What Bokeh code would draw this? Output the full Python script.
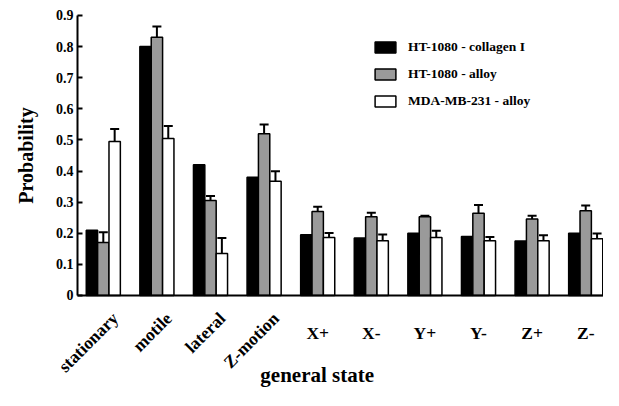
import numpy as np
from bokeh.plotting import figure
from bokeh.models import ColumnDataSource, Range1d, FixedTicker, Whisker, TeeHead, Legend
from bokeh.core.properties import value
from bokeh.embed import file_html
from bokeh.resources import INLINE

categories = ["stationary", "motile", "lateral", "Z-motion",
              "X+", "X-", "Y+", "Y-", "Z+", "Z-"]
ht_collagen = [0.21, 0.80, 0.42, 0.38, 0.195, 0.185, 0.20, 0.19, 0.175, 0.20]
ht_alloy = [0.17, 0.83, 0.305, 0.52, 0.27, 0.253, 0.253, 0.264, 0.246, 0.272]
ht_alloy_err = [0.033, 0.035, 0.015, 0.03, 0.015, 0.013, 0.003, 0.027, 0.01, 0.017]
mda_alloy = [0.495, 0.505, 0.135, 0.367, 0.186, 0.176, 0.186, 0.176, 0.176, 0.182]
mda_alloy_err = [0.04, 0.04, 0.05, 0.032, 0.015, 0.02, 0.022, 0.012, 0.018, 0.017]
y_ticks = [0, 0.1, 0.2, 0.3, 0.4, 0.5, 0.6, 0.7, 0.8, 0.9]
x_title = "general state"
y_title = "Probability"

FONT = "Liberation Serif"
idx = np.arange(len(categories))
bw = 0.212
X_AXIS_START = -0.48
X_END = 9.332

# the frame covers the whole canvas; axes are drawn at fixed data locations
p = figure(width=603, height=390, output_backend="svg", toolbar_location=None,
           x_range=Range1d(-1.918, X_END), y_range=Range1d(-0.3054, 0.9482),
           min_border=0)
p.outline_line_color = None
p.grid.visible = False

r1 = p.vbar(x=idx - bw, top=ht_collagen, width=bw, fill_color="black",
            line_color="black", line_width=1.5)
r2 = p.vbar(x=idx, top=ht_alloy, width=bw, fill_color="#9a9a9a",
            line_color="black", line_width=1.5)
r3 = p.vbar(x=idx + bw, top=mda_alloy, width=bw, fill_color="white",
            line_color="black", line_width=1.5)

def add_err(xs, vals, errs):
    src = ColumnDataSource(dict(x=list(xs),
                                upper=[v + e for v, e in zip(vals, errs)],
                                lower=[v - e for v, e in zip(vals, errs)]))
    w = Whisker(source=src, base="x", upper="upper", lower="lower",
                line_color="black", line_width=2,
                upper_head=TeeHead(size=9, line_width=2, line_color="black"),
                lower_head=TeeHead(size=9, line_width=2, line_color="black"))
    p.add_layout(w)

add_err(idx, ht_alloy, ht_alloy_err)
add_err(idx + bw, mda_alloy, mda_alloy_err)

legend = Legend(items=[("HT-1080 - collagen I", [r1]),
                       ("HT-1080 - alloy", [r2]),
                       ("MDA-MB-231 - alloy", [r3])],
                location=(372, 281), glyph_width=26, glyph_height=14,
                label_height=14, spacing=11, label_standoff=10, padding=0,
                margin=0, border_line_color=None, background_fill_alpha=0,
                label_text_font=FONT, label_text_font_style="bold",
                label_text_font_size="13.5px", label_text_color="black")
p.add_layout(legend)

# y axis at the left end of the x axis
ya = p.yaxis[0]
ya.fixed_location = X_AXIS_START
ya.ticker = FixedTicker(ticks=y_ticks)
ya.bounds = (0, 0.9)
ya.major_label_overrides = {0: "0"}
ya.axis_line_width = 2
ya.axis_line_color = "black"
ya.major_tick_in = 5
ya.major_tick_out = 0
ya.major_tick_line_width = 2
ya.major_tick_line_color = "black"
ya.minor_tick_line_color = None
ya.major_label_text_font = FONT
ya.major_label_text_font_style = "bold"
ya.major_label_text_font_size = "14px"
ya.major_label_text_color = "black"
ya.major_label_standoff = 4
ya.axis_label = y_title
ya.axis_label_text_font = FONT
ya.axis_label_text_font_style = "bold"
ya.axis_label_text_font_size = "20px"
ya.axis_label_text_color = "black"
ya.axis_label_standoff = 16

# x axis line at zero
xa = p.xaxis[0]
xa.fixed_location = 0
xa.bounds = (X_AXIS_START, X_END)
xa.ticker = FixedTicker(ticks=[])
xa.axis_line_width = 2
xa.axis_line_color = "black"
xa.major_tick_out = 0
xa.major_tick_in = 0
xa.minor_tick_line_color = None
xa.major_label_text_font_size = "0px"

# category labels: first four rotated 45 degrees, rest horizontal
n_rot = 4
rot_src = ColumnDataSource(dict(x=[i + 0.22 for i in range(n_rot)],
                                y=[-0.064] * n_rot,
                                t=categories[:n_rot]))
hor_src = ColumnDataSource(dict(x=list(range(n_rot, len(categories))),
                                y=[-0.122] * (len(categories) - n_rot),
                                t=categories[n_rot:]))
p.text(x="x", y="y", text="t", source=rot_src, angle=45, angle_units="deg",
       text_align="right", text_baseline="middle",
       text_font=value(FONT), text_font_style="bold",
       text_font_size="17.5px", text_color="black")
p.text(x="x", y="y", text="t", source=hor_src,
       text_align="center", text_baseline="middle",
       text_font=value(FONT), text_font_style="bold",
       text_font_size="17.5px", text_color="black")
p.text(x=[3.99], y=[-0.256], text=[x_title],
       text_align="center", text_baseline="middle",
       text_font=value(FONT), text_font_style="bold",
       text_font_size="21px", text_color="black")

open("out.html", "w").write(file_html(p, INLINE))
